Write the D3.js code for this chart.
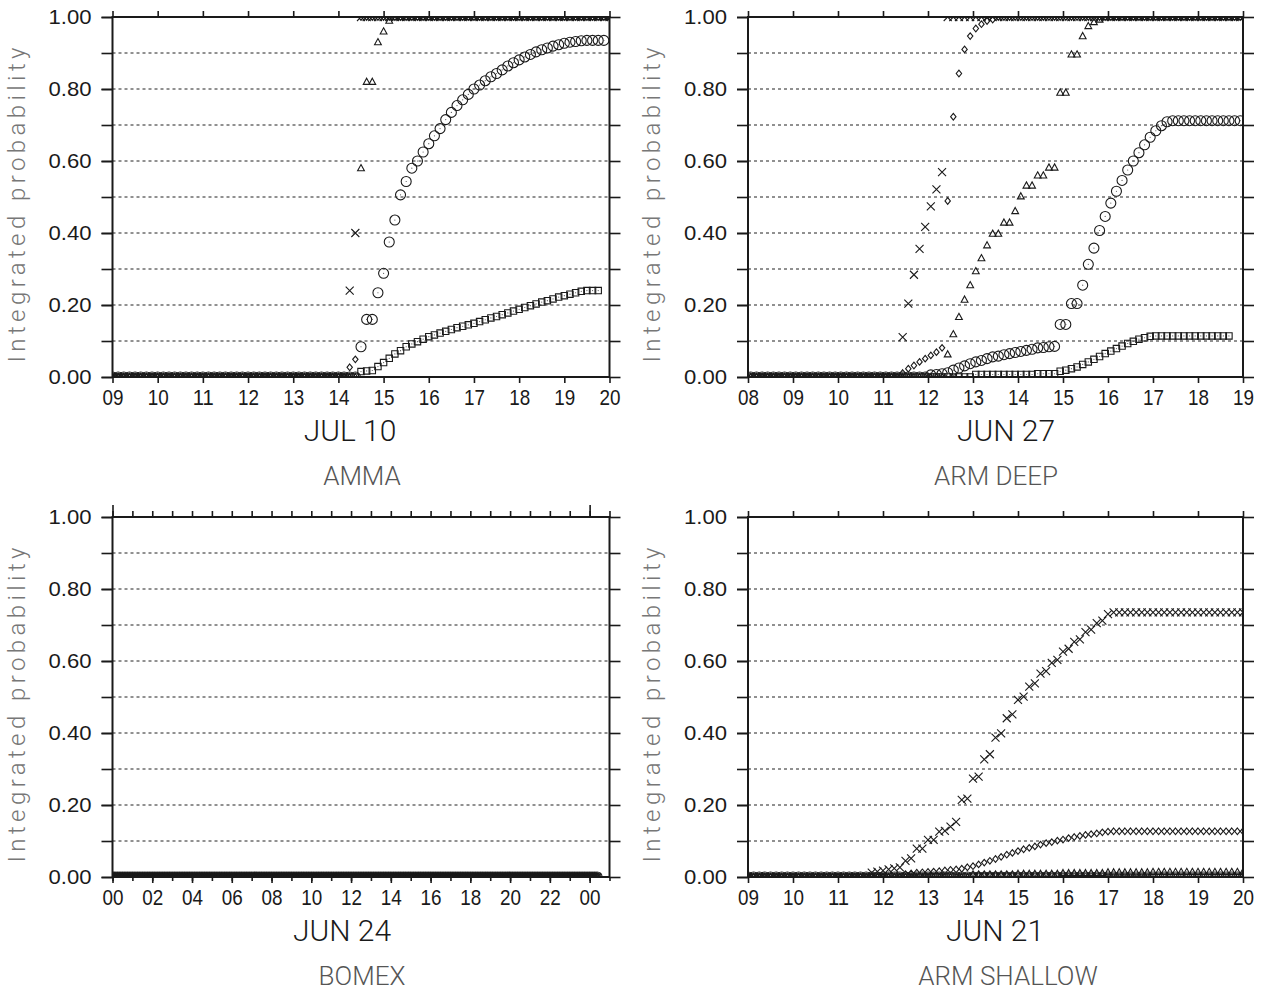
<!DOCTYPE html>
<html>
<head>
<meta charset="utf-8">
<script src="https://cdn.jsdelivr.net/npm/d3@7"></script>
<style>
  body { margin: 0; background: #fff; }
  svg { display: block; }
</style>
</head>
<body>
<div id="chart"></div>
<script>
// values, one per output time (step 7.5 min)
// a [value, count] pair stands for a run of equal values
const markerNames = ["circle", "square", "triangle", "diamond", "cross"];

// AMMA, JUL 10, 09:00 -> 20:00
const ammaCross = [[0, 42], 0.24, 0.40, [1, 45]];
const ammaDiamond = [[0, 42], 0.027, 0.049, [1, 45]];
const ammaTriangle = [[0, 44], 0.58, 0.82, 0.82, 0.93, 0.96, 0.99, [1, 39]];
const ammaCircle = [[0, 44], 0.084, 0.16, 0.16, 0.234, 0.288, 0.375, 0.436, 0.506, 0.543,
  0.58, 0.60, 0.625, 0.648, 0.67, 0.69, 0.715, 0.735, 0.754, 0.77,
  0.785, 0.80, 0.811, 0.823, 0.834, 0.843, 0.853, 0.864, 0.873, 0.881,
  0.889, 0.896, 0.903, 0.909, 0.914, 0.919, 0.923, 0.927, 0.930, 0.932,
  0.934, [0.935, 4], null];
const ammaSquare = [[0, 44], 0.015, 0.017, 0.018, 0.029, 0.04, 0.052, 0.064, 0.073, 0.084, 0.092,
  0.098, 0.105, 0.112, 0.117, 0.122, 0.127, 0.132, 0.137, 0.141, 0.145,
  0.149, 0.154, 0.159, 0.164, 0.168, 0.173, 0.178, 0.183, 0.188, 0.193,
  0.198, 0.203, 0.208, 0.212, 0.217, 0.222, 0.226, 0.23, 0.234, 0.238,
  0.24, 0.24, 0.24, null, null];

// ARM DEEP, JUN 27, 08:04 -> 18:56
const deepCross = [[0, 27], 0.111, 0.204, 0.284, 0.356, 0.417, 0.474, 0.521, 0.569, [1, 53]];
const deepDiamond = [[0, 27], 0.011, 0.023, 0.032, 0.042, 0.051, 0.06, 0.069, 0.081,
  0.489, 0.723, 0.843, 0.91, 0.947, 0.968, 0.98, 0.989, 0.993, [1, 44]];
const deepTriangle = [[0, 35], 0.063, 0.119, 0.167, 0.215, 0.255, 0.294, 0.33, 0.366, 0.398, 0.398,
  0.429, 0.429, 0.461, 0.502, 0.532, 0.532, 0.56, 0.56, 0.582, 0.582,
  0.79, 0.79, 0.896, 0.896, 0.947, 0.975, 0.986, 0.993, [1, 25]];
const deepCircle = [[0, 32], 0.006, 0.007, 0.009, 0.012, 0.019, 0.025, 0.031, 0.037, 0.042, 0.046,
  0.051, 0.056, 0.058, 0.062, 0.065, 0.068, 0.071, 0.074, 0.077, 0.081,
  0.082, 0.084, 0.085, 0.146, 0.146, 0.204, 0.204, 0.255, 0.313, 0.358,
  0.407, 0.446, 0.483, 0.516, 0.546, 0.575, 0.60, 0.623, 0.645, 0.666,
  0.684, 0.698, 0.709, [0.712, 13]];
const deepSquare = [[0, 40], [0.007, 11], [0.009, 4], 0.016, 0.019, 0.023, 0.028, 0.035, 0.042, 0.049,
  0.057, 0.065, 0.072, 0.079, 0.086, 0.093, 0.099, 0.105, 0.109, 0.113,
  [0.114, 14], null, null];

// BOMEX, JUN 24, 00:00 -> 24:22, all zero
const bomexCross = [[0, 196]];
const bomexDiamond = [[0, 196]];
const bomexTriangle = [[0, 196]];
const bomexCircle = [[0, 196]];
const bomexSquare = [[0, 196]];

// ARM SHALLOW, JUN 21, 09:00 -> 20:00
const shallowCross = [[0, 22], 0.012, 0.015, 0.018, 0.021, 0.024, 0.027,
  0.045, 0.052, 0.079, 0.079, 0.103, 0.103, 0.126, 0.128, 0.14, 0.153,
  0.214, 0.218, 0.273, 0.279, 0.327, 0.341, 0.387, 0.399, 0.441, 0.452,
  0.492, 0.501, 0.529, 0.538, 0.565, 0.572, 0.595, 0.603, 0.626, 0.634,
  0.653, 0.66, 0.68, 0.687, 0.705, 0.712, 0.73, 0.735, [0.735, 23]];
const shallowDiamond = [[0, 28], 0.008, 0.01, 0.012, 0.013, 0.014, 0.015, 0.016, 0.018, 0.02, 0.021,
  0.023, 0.027, 0.03, 0.035, 0.04, 0.045, 0.05, 0.056, 0.062, 0.067,
  0.072, 0.077, 0.081, 0.085, 0.09, 0.094, 0.097, 0.101, 0.104, 0.108,
  0.111, 0.114, 0.117, 0.119, 0.121, 0.124, 0.126, [0.127, 24]];
const shallowTriangle = [[0, 40], [0.007, 8], [0.009, 8], [0.011, 8], [0.013, 8], [0.014, 17]];
const shallowCircle = [[0, 89]];
const shallowSquare = [[0, 89]];

// tick values
const hours9to20 = [9, 10, 11, 12, 13, 14, 15, 16, 17, 18, 19, 20];
const hours8to19 = [8, 9, 10, 11, 12, 13, 14, 15, 16, 17, 18, 19];
const bomexLabelHours = [0, 2, 4, 6, 8, 10, 12, 14, 16, 18, 20, 22, 24];
const bomexHours = d3.range(0, 26);
const yTicks = [0, 0.1, 0.2, 0.3, 0.4, 0.5, 0.6, 0.7, 0.8, 0.9, 1];
const yLabels = [0, 0.2, 0.4, 0.6, 0.8, 1];
const gridValues = [0.1, 0.2, 0.3, 0.4, 0.5, 0.6, 0.7, 0.8, 0.9];

const expand = (spec) =>
  spec.flatMap((d) => (Array.isArray(d) ? Array(d[1]).fill(d[0]) : [d]));

const panels = [
  {
    title: "AMMA", date: "JUL 10", start: 9, step: 0.125, domain: [9, 20],
    labels: hours9to20, minor: [], top: hours9to20, topMajor: [],
    series: { cross: ammaCross, diamond: ammaDiamond, triangle: ammaTriangle, circle: ammaCircle, square: ammaSquare },
    left: 112.5, right: 609.5, y0: 17, y1: 377, dateX: 350, titleX: 362
  },
  {
    title: "ARM DEEP", date: "JUN 27", start: 8.0625, step: 0.125, domain: [8, 19],
    labels: hours8to19, minor: [], top: hours8to19, topMajor: [],
    series: { cross: deepCross, diamond: deepDiamond, triangle: deepTriangle, circle: deepCircle, square: deepSquare },
    left: 748, right: 1243, y0: 17, y1: 377, dateX: 1006, titleX: 996
  },
  {
    title: "BOMEX", date: "JUN 24", start: 0, step: 0.125, domain: [0, 25],
    labels: bomexLabelHours, minor: bomexHours, top: bomexHours, topMajor: [0, 24],
    series: { cross: bomexCross, diamond: bomexDiamond, triangle: bomexTriangle, circle: bomexCircle, square: bomexSquare },
    left: 112.5, right: 609.5, y0: 517, y1: 877, dateX: 342, titleX: 362
  },
  {
    title: "ARM SHALLOW", date: "JUN 21", start: 9, step: 0.125, domain: [9, 20],
    labels: hours9to20, minor: [], top: hours9to20, topMajor: [],
    series: { cross: shallowCross, diamond: shallowDiamond, triangle: shallowTriangle, circle: shallowCircle, square: shallowSquare },
    left: 748, right: 1243, y0: 517, y1: 877, dateX: 995, titleX: 1008
  }
];

const ink = "#1a1a1a";
const markerPath = {
  cross: "M-4,-4L4,4M-4,4L4,-4",
  diamond: "M0,-3.3L2.7,0L0,3.3L-2.7,0Z",
  triangle: "M0,-3.6L3.4,2.6L-3.4,2.6Z",
  square: "M-3.2,-3.2H3.2V3.2H-3.2Z"
};

const svg = d3.select("#chart").append("svg")
  .attr("width", 1264).attr("height", 994);
const defs = svg.append("defs");

const styleAxis = (sel) => {
  sel.select(".domain").remove();
  sel.attr("font-size", null).attr("font-family", null);
  sel.selectAll(".tick line").attr("stroke", ink).attr("stroke-width", 1.6);
};

panels.forEach((p, i) => {
  const x = d3.scaleLinear().domain(p.domain).range([p.left, p.right]);
  const y = d3.scaleLinear().domain([0, 1]).range([p.y1, p.y0]);
  const g = svg.append("g");

  // dotted grid
  g.append("g").selectAll("line").data(gridValues).join("line")
    .attr("x1", p.left).attr("x2", p.right)
    .attr("y1", (d) => y(d)).attr("y2", (d) => y(d))
    .attr("stroke", "#222").attr("stroke-width", 1)
    .attr("stroke-dasharray", "3,3");

  // markers, clipped to the plot box
  defs.append("clipPath").attr("id", "clip" + i).append("rect")
    .attr("x", p.left).attr("y", p.y0)
    .attr("width", p.right - p.left).attr("height", p.y1 - p.y0);
  const mg = g.append("g").attr("clip-path", `url(#clip${i})`);

  markerNames.forEach((name) => {
    const pts = expand(p.series[name])
      .map((v, k) => ({ t: p.start + k * p.step, v }))
      .filter((d) => d.v !== null);
    const sg = mg.append("g").attr("class", name);
    if (name === "circle") {
      sg.selectAll("circle").data(pts).join("circle")
        .attr("cx", (d) => x(d.t)).attr("cy", (d) => y(d.v))
        .attr("r", 5).attr("fill", "none")
        .attr("stroke", ink).attr("stroke-width", 1.1);
    } else {
      sg.selectAll("path").data(pts).join("path")
        .attr("transform", (d) => `translate(${x(d.t)},${y(d.v)})`)
        .attr("d", markerPath[name]).attr("fill", "none")
        .attr("stroke", ink).attr("stroke-width", 1.1);
    }
    if (name === "circle" || name === "square") {
      sg.selectAll("circle.dot").data(pts).join("circle").attr("class", "dot")
        .attr("cx", (d) => x(d.t)).attr("cy", (d) => y(d.v))
        .attr("r", 0.6).attr("fill", "#555");
    }
  });

  // frame
  g.append("rect")
    .attr("x", p.left).attr("y", p.y0)
    .attr("width", p.right - p.left).attr("height", p.y1 - p.y0)
    .attr("fill", "none").attr("stroke", ink).attr("stroke-width", 2);

  const fmtHour = (d) => String(d % 24).padStart(2, "0");

  // bottom axis
  if (p.minor.length) {
    g.append("g").attr("transform", `translate(0,${p.y1})`)
      .call(d3.axisBottom(x).tickValues(p.minor).tickSize(4).tickFormat("").tickSizeOuter(0))
      .call(styleAxis);
  }
  const xb = g.append("g").attr("transform", `translate(0,${p.y1})`)
    .call(d3.axisBottom(x).tickValues(p.labels).tickSize(6).tickFormat(fmtHour).tickSizeOuter(0))
    .call(styleAxis);
  xb.selectAll("text")
    .attr("y", 28).attr("dy", null)
    .attr("fill", ink)
    .attr("font-family", "'Liberation Sans', Arial, sans-serif")
    .attr("font-size", 22)
    .attr("textLength", 21).attr("lengthAdjust", "spacingAndGlyphs");

  // top axis
  g.append("g").attr("transform", `translate(0,${p.y0})`)
    .call(d3.axisTop(x).tickValues(p.top).tickSize(6).tickFormat("").tickSizeOuter(0))
    .call(styleAxis);
  if (p.topMajor.length) {
    g.append("g").attr("transform", `translate(0,${p.y0})`)
      .call(d3.axisTop(x).tickValues(p.topMajor).tickSize(12).tickFormat("").tickSizeOuter(0))
      .call(styleAxis);
  }

  // left axis
  g.append("g").attr("transform", `translate(${p.left},0)`)
    .call(d3.axisLeft(y).tickValues(yTicks).tickSize(11).tickFormat("").tickSizeOuter(0))
    .call(styleAxis);
  const yl = g.append("g").attr("transform", `translate(${p.left},0)`)
    .call(d3.axisLeft(y).tickValues(yLabels).tickSize(11).tickPadding(10)
      .tickFormat(d3.format(".2f")).tickSizeOuter(0))
    .call(styleAxis);
  yl.selectAll("text")
    .attr("fill", ink)
    .attr("font-family", "'Liberation Sans', Arial, sans-serif")
    .attr("font-size", 21)
    .attr("textLength", 43).attr("lengthAdjust", "spacingAndGlyphs");

  // right axis
  g.append("g").attr("transform", `translate(${p.right},0)`)
    .call(d3.axisRight(y).tickValues(yTicks).tickSize(11).tickFormat("").tickSizeOuter(0))
    .call(styleAxis);

  // y title
  g.append("text")
    .attr("transform", `translate(${p.left - 88},${(p.y0 + p.y1) / 2 + 8}) rotate(-90)`)
    .attr("text-anchor", "middle")
    .attr("fill", "#777")
    .attr("font-family", "Roboto, 'Liberation Sans', sans-serif")
    .attr("font-weight", 300)
    .attr("font-size", 24)
    .attr("textLength", 315).attr("lengthAdjust", "spacing")
    .text("Integrated probability");

  // date under the time axis
  g.append("text")
    .attr("x", p.dateX).attr("y", p.y1 + 64)
    .attr("text-anchor", "middle")
    .attr("fill", ink)
    .attr("font-family", "Roboto, 'Liberation Sans', sans-serif")
    .attr("font-weight", 300)
    .attr("font-size", 30)
    .text(p.date);

  // case name
  g.append("text")
    .attr("x", p.titleX).attr("y", p.y1 + 108)
    .attr("text-anchor", "middle")
    .attr("fill", "#555")
    .attr("font-family", "Roboto, 'Liberation Sans', sans-serif")
    .attr("font-weight", 300)
    .attr("font-size", 26)
    .text(p.title);
});
</script>
</body>
</html>
